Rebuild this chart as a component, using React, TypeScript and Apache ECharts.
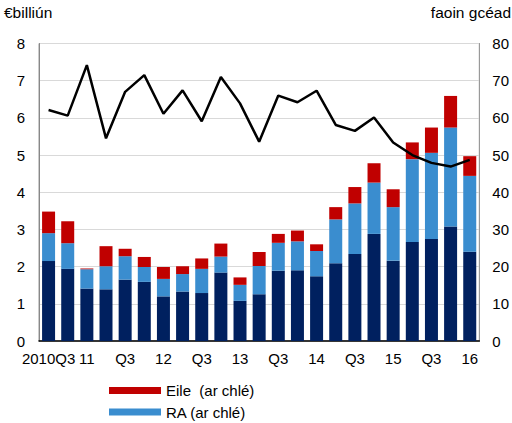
import React, { useEffect, useRef } from "react";
import * as echarts from "echarts";

const categories = [
  "2010Q3", "2010Q4", "2011Q1", "2011Q2", "2011Q3", "2011Q4",
  "2012Q1", "2012Q2", "2012Q3", "2012Q4", "2013Q1", "2013Q2",
  "2013Q3", "2013Q4", "2014Q1", "2014Q2", "2014Q3", "2014Q4",
  "2015Q1", "2015Q2", "2015Q3", "2015Q4", "2016Q1",
];
const tickLabels = [
  "2010Q3", "", "11", "", "Q3", "", "12", "", "Q3", "", "13", "",
  "Q3", "", "14", "", "Q3", "", "15", "", "Q3", "", "16",
];
const baseSeries = [2.15, 1.94, 1.41, 1.39, 1.65, 1.59, 1.2, 1.33, 1.29, 1.84, 1.08, 1.26, 1.89, 1.9, 1.74, 2.09, 2.34, 2.88, 2.16, 2.66, 2.74, 3.08, 2.4];
const raSeries = [0.75, 0.69, 0.52, 0.62, 0.63, 0.4, 0.47, 0.47, 0.65, 0.43, 0.43, 0.76, 0.75, 0.78, 0.68, 1.18, 1.36, 1.38, 1.44, 2.23, 2.32, 2.66, 2.04];
const eileSeries = [0.58, 0.59, 0.02, 0.54, 0.2, 0.27, 0.32, 0.21, 0.28, 0.35, 0.2, 0.37, 0.24, 0.29, 0.18, 0.33, 0.44, 0.52, 0.48, 0.45, 0.68, 0.85, 0.53];
const percentSeries = [62.1, 60.6, 74.2, 54.5, 67.0, 71.5, 61.1, 67.4, 59.1, 71.0, 63.9, 53.6, 66.0, 64.2, 67.3, 58.1, 56.5, 60.1, 53.4, 50.0, 47.9, 46.9, 48.7];

const NAME_EILE = "Eile  (ar chlé)";
const NAME_RA = "RA (ar chlé)";

const FONT = "Liberation Sans, Arial, sans-serif";

export default function App() {
  const ref = useRef<HTMLDivElement>(null);
  useEffect(() => {
    if (!ref.current) return;
    const chart = echarts.init(ref.current, null, { renderer: "svg" });
    chart.setOption({
      animation: false,
      textStyle: { fontFamily: FONT },
      grid: {
        left: 39,
        right: 32,
        top: 43.5,
        bottom: 82,
        show: true,
        borderColor: "#999",
        borderWidth: 1,
      },
      graphic: [
        { type: "text", left: 4, top: 4, style: { text: "€billiún", fontSize: 15.5, fontFamily: FONT, fill: "#000" } },
        { type: "text", right: 1, top: 4, style: { text: "faoin gcéad", fontSize: 15.5, fontFamily: FONT, fill: "#000" } },
      ],
      legend: {
        data: [NAME_EILE, NAME_RA],
        orient: "vertical",
        left: 109,
        top: 383,
        height: 40,
        padding: 0,
        itemWidth: 52,
        itemHeight: 7,
        itemGap: 6.5,
        icon: "rect",
        textStyle: { fontSize: 15, fontFamily: FONT, color: "#000", lineHeight: 15 },
      },
      xAxis: {
        type: "category",
        data: categories,
        axisTick: { show: false },
        axisLine: { lineStyle: { color: "#000", width: 1.5 } },
        axisLabel: {
          interval: 0,
          margin: 10,
          fontSize: 15,
          color: "#000",
          fontFamily: FONT,
          formatter: (_v: string, i: number) => tickLabels[i],
        },
      },
      yAxis: [
        {
          type: "value",
          min: 0,
          max: 8,
          interval: 1,
          axisLine: { show: true, lineStyle: { color: "#888" } },
          axisTick: { show: false },
          axisLabel: { fontSize: 15, color: "#000", margin: 14, fontFamily: FONT },
          splitLine: { lineStyle: { color: "#d9d9d9" } },
        },
        {
          type: "value",
          min: 0,
          max: 80,
          interval: 10,
          position: "right",
          axisLine: { show: true, lineStyle: { color: "#999" } },
          axisTick: { show: false },
          axisLabel: { fontSize: 15, color: "#000", margin: 13, fontFamily: FONT },
          splitLine: { show: false },
        },
      ],
      series: [
        {
          name: "Baincéireacht",
          type: "bar",
          stack: "a",
          barWidth: 13,
          data: baseSeries,
          itemStyle: { color: "#00205f" },
        },
        {
          name: NAME_RA,
          type: "bar",
          stack: "a",
          barWidth: 13,
          data: raSeries,
          itemStyle: { color: "#3a8dcf" },
        },
        {
          name: NAME_EILE,
          type: "bar",
          stack: "a",
          barWidth: 13,
          data: eileSeries,
          itemStyle: { color: "#c00000" },
        },
        {
          name: "faoin gcéad",
          type: "line",
          yAxisIndex: 1,
          data: percentSeries,
          showSymbol: false,
          symbol: "none",
          lineStyle: { color: "#000", width: 2.5 },
          z: 5,
        },
      ],
    });
    return () => chart.dispose();
  }, []);
  return (
    <div
      ref={ref}
      style={{ position: "fixed", left: 0, top: 0, width: 512, height: 423, background: "#fff" }}
    />
  );
}
